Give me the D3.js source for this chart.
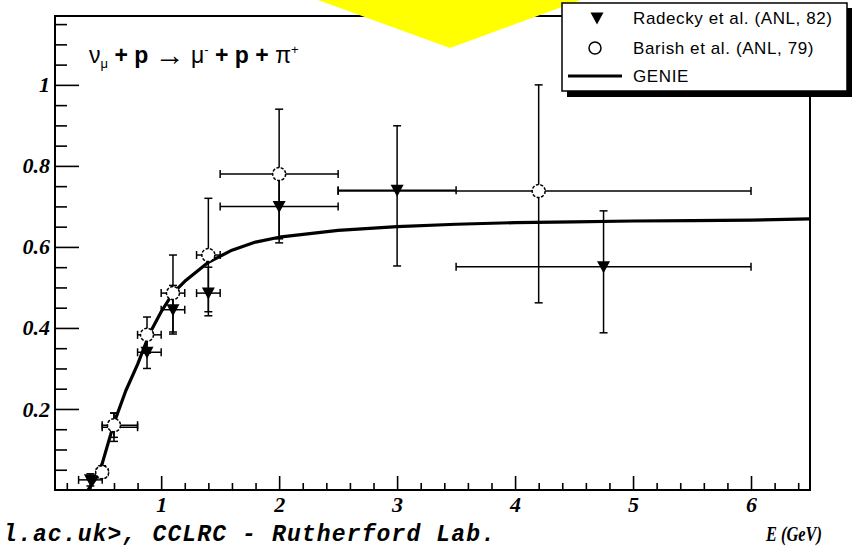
<!DOCTYPE html>
<html>
<head>
<meta charset="utf-8">
<script src="https://cdn.jsdelivr.net/npm/d3@7"></script>
<style>
  html, body { margin: 0; padding: 0; background: #fff; }
  svg { display: block; }
</style>
</head>
<body>
<svg id="chart" width="853" height="547"></svg>
<script>
// nu_mu + p -> mu- + p + pi+ cross section vs neutrino energy

// Radecky et al. (ANL, 82)
const radeckyE     = [0.4, 0.6, 0.88, 1.1, 1.4, 2.0, 3.0, 4.75];
const radeckyXsec  = [0.025, 0.155, 0.34, 0.445, 0.486, 0.70, 0.74, 0.551];
const radeckyELow  = [0.3, 0.5, 0.8, 1.0, 1.3, 1.5, 2.5, 3.5];
const radeckyEHigh = [0.5, 0.8, 1.0, 1.2, 1.5, 2.5, 3.5, 6.0];
const radeckyLow   = [0.01, 0.12, 0.30, 0.385, 0.43, 0.61, 0.553, 0.388];
const radeckyHigh  = [0.04, 0.19, 0.39, 0.505, 0.55, 0.79, 0.899, 0.689];

// Barish et al. (ANL, 79)
const barishE     = [0.5, 0.6, 0.88, 1.1, 1.4, 2.0, 4.2];
const barishXsec  = [0.044, 0.16, 0.383, 0.486, 0.58, 0.78, 0.738];
const barishELow  = [0.45, 0.5, 0.8, 1.0, 1.3, 1.5, 2.5];
const barishEHigh = [0.55, 0.8, 1.0, 1.2, 1.5, 2.5, 6.0];
const barishLow   = [0.03, 0.13, 0.338, 0.39, 0.44, 0.62, 0.462];
const barishHigh  = [0.06, 0.19, 0.427, 0.58, 0.72, 0.94, 1.0];

// GENIE prediction
const genieE    = [0.38, 0.45, 0.5, 0.6, 0.7, 0.8, 0.9, 1.0, 1.1, 1.2, 1.4, 1.6, 1.8, 2.0, 2.5, 3.0, 3.5, 4.0, 4.5, 5.0, 5.5, 6.0, 6.5];
const genieXsec = [0.0, 0.03, 0.065, 0.165, 0.245, 0.31, 0.385, 0.44, 0.486, 0.515, 0.562, 0.592, 0.612, 0.624, 0.641, 0.65, 0.656, 0.66, 0.662, 0.664, 0.665, 0.666, 0.669];

// axis ticks
const xMajorTicks = [1, 2, 3, 4, 5, 6];
const yMajorTicks = [0.2, 0.4, 0.6, 0.8, 1];

const legendLabels = ["Radecky et al. (ANL, 82)", "Barish et al. (ANL, 79)", "GENIE"];

const svg = d3.select("#chart");
const frameL = 55, frameR = 810, frameT = 16, frameB = 490;

const x = d3.scaleLinear().domain([0.1, 6.5]).range([frameL, frameR]);
const y = d3.scaleLinear().domain([0, 1.17]).range([frameB, frameT]);

const serifBI = "'Liberation Serif', 'DejaVu Serif', serif";

// frame
svg.append("rect")
  .attr("x", frameL).attr("y", frameT)
  .attr("width", frameR - frameL).attr("height", frameB - frameT)
  .attr("fill", "none").attr("stroke", "#000").attr("stroke-width", 2);

// x axis: minor then major ticks pointing into the frame
const xMinor = d3.range(0.2, 6.5, 0.2).filter(v => Math.abs(v - Math.round(v)) > 1e-6);
const gxMinor = svg.append("g").attr("transform", `translate(0,${frameB})`)
  .call(d3.axisBottom(x).tickValues(xMinor).tickSize(-7).tickFormat(""));
const gx = svg.append("g").attr("transform", `translate(0,${frameB})`)
  .call(d3.axisBottom(x).tickValues(xMajorTicks).tickSize(-14).tickPadding(6).tickFormat(d3.format("d")));

// y axis
const yMinor = d3.range(0.05, 1.17, 0.05).filter(v => Math.abs(v * 5 - Math.round(v * 5)) > 1e-6);
const gyMinor = svg.append("g").attr("transform", `translate(${frameL},0)`)
  .call(d3.axisLeft(y).tickValues(yMinor).tickSize(-12).tickFormat(""));
const gy = svg.append("g").attr("transform", `translate(${frameL},0)`)
  .call(d3.axisLeft(y).tickValues(yMajorTicks).tickSize(-24).tickPadding(5)
    .tickFormat(d => d === 1 ? "1" : d3.format(".1f")(d)));

[gxMinor, gx, gyMinor, gy].forEach(g => {
  g.select(".domain").remove();
  g.selectAll(".tick line").attr("stroke", "#000").attr("stroke-width", 1.6);
  g.selectAll(".tick text")
    .attr("fill", "#000")
    .style("font-family", serifBI)
    .style("font-weight", "bold")
    .style("font-style", "italic")
    .style("font-size", "22px");
});
gx.selectAll(".tick text").attr("dy", "0.72em");

// GENIE curve
const line = d3.line().x(d => x(d[0])).y(d => y(d[1]));
svg.append("path")
  .datum(genieE.map((e, i) => [e, genieXsec[i]]))
  .attr("d", line)
  .attr("fill", "none").attr("stroke", "#000").attr("stroke-width", 3.2)
  .attr("stroke-linejoin", "round");

// error bars with end caps
function errorBars(E, V, eLo, eHi, vLo, vHi) {
  const g = svg.append("g").attr("stroke", "#000").attr("stroke-width", 1.5).attr("fill", "none");
  const cap = 4;
  E.forEach((e, i) => {
    const cx = x(e), cy = y(V[i]);
    const x0 = x(eLo[i]), x1 = x(eHi[i]);
    const y0 = y(vLo[i]), y1 = y(vHi[i]);
    g.append("line").attr("x1", x0).attr("x2", x1).attr("y1", cy).attr("y2", cy);
    g.append("line").attr("x1", x0).attr("x2", x0).attr("y1", cy - cap).attr("y2", cy + cap);
    g.append("line").attr("x1", x1).attr("x2", x1).attr("y1", cy - cap).attr("y2", cy + cap);
    g.append("line").attr("x1", cx).attr("x2", cx).attr("y1", y0).attr("y2", y1);
    g.append("line").attr("x1", cx - cap).attr("x2", cx + cap).attr("y1", y0).attr("y2", y0);
    g.append("line").attr("x1", cx - cap).attr("x2", cx + cap).attr("y1", y1).attr("y2", y1);
  });
}
errorBars(radeckyE, radeckyXsec, radeckyELow, radeckyEHigh, radeckyLow, radeckyHigh);
errorBars(barishE, barishXsec, barishELow, barishEHigh, barishLow, barishHigh);

// markers
const triPath = "M-6.5,-5.5L6.5,-5.5L0,6.5Z";
svg.append("g").selectAll("path")
  .data(radeckyE.map((e, i) => [e, radeckyXsec[i]]))
  .join("path")
  .attr("transform", d => `translate(${x(d[0])},${y(d[1])})`)
  .attr("d", triPath).attr("fill", "#000");

svg.append("g").selectAll("circle")
  .data(barishE.map((e, i) => [e, barishXsec[i]]))
  .join("circle")
  .attr("cx", d => x(d[0])).attr("cy", d => y(d[1])).attr("r", 6.5)
  .attr("fill", "#fff").attr("stroke", "#000").attr("stroke-width", 1.5)
  .attr("stroke-dasharray", "3,1.5");

// reaction label
const sans = "'Liberation Sans', Arial, sans-serif";
const rx = svg.append("text").attr("x", 89).attr("y", 63)
  .style("font-family", sans).style("font-size", "23px").attr("fill", "#000");
rx.append("tspan").text("ν");
rx.append("tspan").attr("dy", 5).style("font-size", "13px").text("μ");
rx.append("tspan").attr("dy", -5).style("font-weight", "bold").text(" + p ");
rx.append("tspan").style("font-size", "30px").attr("dy", 2).text("→");
rx.append("tspan").attr("dy", -2).text(" μ");
rx.append("tspan").attr("dy", -9).style("font-size", "13px").text("-");
rx.append("tspan").attr("dy", 9).style("font-weight", "bold").text(" + p + ");
rx.append("tspan").text("π");
rx.append("tspan").attr("dy", -9).style("font-size", "13px").text("+");

// yellow pointer
svg.append("path")
  .attr("d", d3.line()([[318, 0], [581, 0], [450, 48]]))
  .attr("fill", "#ffff00");

// legend with drop shadow
svg.append("rect").attr("x", 567).attr("y", 8).attr("width", 285).attr("height", 89).attr("fill", "#000");
svg.append("rect").attr("x", 562).attr("y", 3).attr("width", 285).attr("height", 88)
  .attr("fill", "#fff").attr("stroke", "#000").attr("stroke-width", 1.5);

const lg = svg.append("g").style("font-family", sans).style("font-size", "17px")
  .style("letter-spacing", "0.6px");
lg.append("path").attr("transform", "translate(597,18)").attr("d", triPath).attr("fill", "#000");
lg.append("circle").attr("cx", 595).attr("cy", 48).attr("r", 6)
  .attr("fill", "#fff").attr("stroke", "#000").attr("stroke-width", 1.5);
lg.append("line").attr("x1", 568).attr("x2", 622).attr("y1", 76).attr("y2", 76)
  .attr("stroke", "#000").attr("stroke-width", 3);
[18, 48, 76].forEach((ly, i) => {
  lg.append("text").attr("x", 633).attr("y", ly).attr("dy", "0.35em").text(legendLabels[i]);
});

// axis title and credit line
svg.append("text").attr("x", 822).attr("y", 541).attr("text-anchor", "end")
  .style("font-family", serifBI).style("font-weight", "bold").style("font-style", "italic")
  .style("font-size", "22px").attr("textLength", 56).attr("lengthAdjust", "spacingAndGlyphs")
  .text("E (GeV)");

svg.append("text").attr("x", 3).attr("y", 541)
  .style("font-family", "'Liberation Mono', 'DejaVu Sans Mono', monospace")
  .style("font-weight", "bold").style("font-style", "italic")
  .style("font-size", "23px").attr("textLength", 492).attr("lengthAdjust", "spacing")
  .text("l.ac.uk>, CCLRC - Rutherford Lab.");
</script>
</body>
</html>
